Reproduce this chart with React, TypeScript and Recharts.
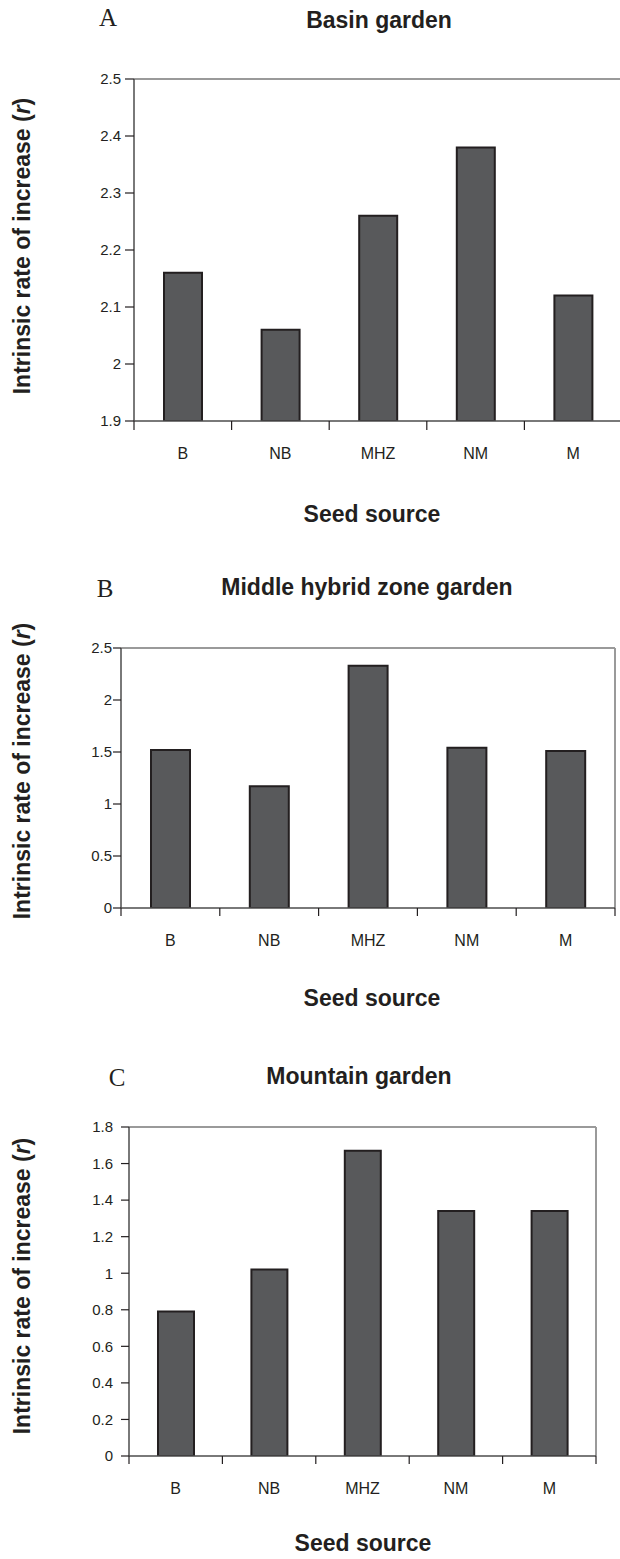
import React from 'react';
import { BarChart, Bar, XAxis, YAxis, CartesianGrid } from 'recharts';

const seedSources = ['B', 'NB', 'MHZ', 'NM', 'M'];

// intrinsic rate of increase (r) per garden
const basinValues = [2.16, 2.06, 2.26, 2.38, 2.12];
const middleValues = [1.52, 1.17, 2.33, 1.54, 1.51];
const mountainValues = [0.79, 1.02, 1.67, 1.34, 1.34];

const basinTicks = [1.9, 2, 2.1, 2.2, 2.3, 2.4, 2.5];
const middleTicks = [0, 0.5, 1, 1.5, 2, 2.5];
const mountainTicks = [0, 0.2, 0.4, 0.6, 0.8, 1, 1.2, 1.4, 1.6, 1.8];

const SANS = '"Liberation Sans", Arial, Helvetica, sans-serif';
const SERIF = '"Liberation Serif", "Times New Roman", serif';
const INK = '#231f20';

// category label centred in its band, tick marks drawn on the band edges
const BandTick = (props: any) => {
  const { x, y, payload, index, width, visibleTicksCount, tickSize, tickMargin } = props;
  const count = visibleTicksCount || seedSources.length;
  const half = Number(width) / count / 2;
  const axisY = y - tickSize - tickMargin;
  return (
    <g>
      <line x1={x - half} x2={x - half} y1={axisY} y2={axisY + tickSize} stroke={INK} strokeWidth={1.2} />
      {index === count - 1 && (
        <line x1={x + half} x2={x + half} y1={axisY} y2={axisY + tickSize} stroke={INK} strokeWidth={1.2} />
      )}
      <text x={x} y={y} dy="0.71em" textAnchor="middle" fill={INK} fontSize={16} fontFamily={SANS}>
        {payload.value}
      </text>
    </g>
  );
};

interface PanelProps {
  values: number[];
  ticks: number[];
  top: number;
  width: number;
  height: number;
  marginTop: number;
  marginRight: number;
  yAxisWidth: number;
  xAxisHeight: number;
  barSize: number;
  yTickSize: number;
  yTickMargin: number;
  xTickSize: number;
  xTickMargin: number;
}

function Panel(p: PanelProps) {
  const data = seedSources.map((name, i) => ({ name, value: p.values[i] }));
  const domain: [number, number] = [p.ticks[0], p.ticks[p.ticks.length - 1]];

  return (
    <div style={{ position: 'absolute', left: 0, top: p.top }}>
      <BarChart
        width={p.width}
        height={p.height}
        data={data}
        margin={{ top: p.marginTop, right: p.marginRight, left: 0, bottom: 0 }}
      >
        {/* grey frame on the top and right of the plot */}
        <CartesianGrid
          stroke="#9a9a9a"
          strokeWidth={2}
          horizontalCoordinatesGenerator={({ offset }: any) => [offset.top]}
          verticalCoordinatesGenerator={({ offset }: any) => [offset.left + offset.width]}
        />
        <XAxis
          dataKey="name"
          type="category"
          interval={0}
          axisLine={{ stroke: '#4d4d4d', strokeWidth: 1.5 }}
          tickLine={false}
          tickSize={p.xTickSize}
          tickMargin={p.xTickMargin}
          height={p.xAxisHeight}
          tick={(tp: any) => <BandTick {...tp} tickSize={p.xTickSize} tickMargin={p.xTickMargin} />}
        />
        <YAxis
          type="number"
          domain={domain}
          ticks={p.ticks}
          interval={0}
          allowDataOverflow
          width={p.yAxisWidth}
          tickSize={p.yTickSize}
          tickMargin={p.yTickMargin}
          axisLine={{ stroke: '#4d4d4d', strokeWidth: 1.5 }}
          tickLine={{ stroke: INK, strokeWidth: 1.2 }}
          tick={{ fill: INK, fontSize: 15, fontFamily: SANS }}
        />
        <Bar
          dataKey="value"
          fill="#58595b"
          stroke={INK}
          strokeWidth={2}
          barSize={p.barSize}
          isAnimationActive={false}
        />
      </BarChart>
    </div>
  );
}

const Texts = () => {
  const title = { fontFamily: SANS, fontWeight: 700, fontSize: 23, fill: INK, textAnchor: 'middle' as const };
  const letter = { fontFamily: SERIF, fontSize: 25, fill: INK, textAnchor: 'middle' as const };
  const yLabel = (cy: number) => (
    <text {...title} x={30} y={cy} transform={`rotate(-90 30 ${cy})`}>
      Intrinsic rate of increase (<tspan fontStyle="italic">r</tspan>)
    </text>
  );
  return (
    <svg
      width={620}
      height={1559}
      style={{ position: 'absolute', left: 0, top: 0, pointerEvents: 'none' }}
    >
      <text {...letter} x={108} y={26}>A</text>
      <text {...title} x={379} y={28}>Basin garden</text>
      {yLabel(246)}
      <text {...title} x={372} y={522}>Seed source</text>

      <text {...letter} x={105} y={597}>B</text>
      <text {...title} x={367} y={595}>Middle hybrid zone garden</text>
      {yLabel(771)}
      <text {...title} x={372} y={1006}>Seed source</text>

      <text {...letter} x={117} y={1086}>C</text>
      <text {...title} x={359} y={1084}>Mountain garden</text>
      {yLabel(1286)}
      <text {...title} x={363} y={1551}>Seed source</text>
    </svg>
  );
};

export default function App() {
  return (
    <div
      style={{
        position: 'absolute',
        left: 0,
        top: 0,
        width: 620,
        height: 1559,
        overflow: 'hidden',
        background: '#fff',
        fontFamily: SANS,
      }}
    >
      <Panel
        values={basinValues}
        ticks={basinTicks}
        top={0}
        width={624}
        height={470}
        marginTop={79}
        marginRight={2}
        yAxisWidth={134}
        xAxisHeight={49}
        barSize={38}
        yTickSize={9}
        yTickMargin={4}
        xTickSize={9}
        xTickMargin={18}
      />
      <Panel
        values={middleValues}
        ticks={middleTicks}
        top={560}
        width={620}
        height={400}
        marginTop={88}
        marginRight={5}
        yAxisWidth={121}
        xAxisHeight={52}
        barSize={39}
        yTickSize={8}
        yTickMargin={1}
        xTickSize={8}
        xTickMargin={19}
      />
      <Panel
        values={mountainValues}
        ticks={mountainTicks}
        top={1100}
        width={620}
        height={400}
        marginTop={27}
        marginRight={24}
        yAxisWidth={129}
        xAxisHeight={44}
        barSize={36}
        yTickSize={8}
        yTickMargin={8}
        xTickSize={8}
        xTickMargin={19}
      />
      <Texts />
    </div>
  );
}
